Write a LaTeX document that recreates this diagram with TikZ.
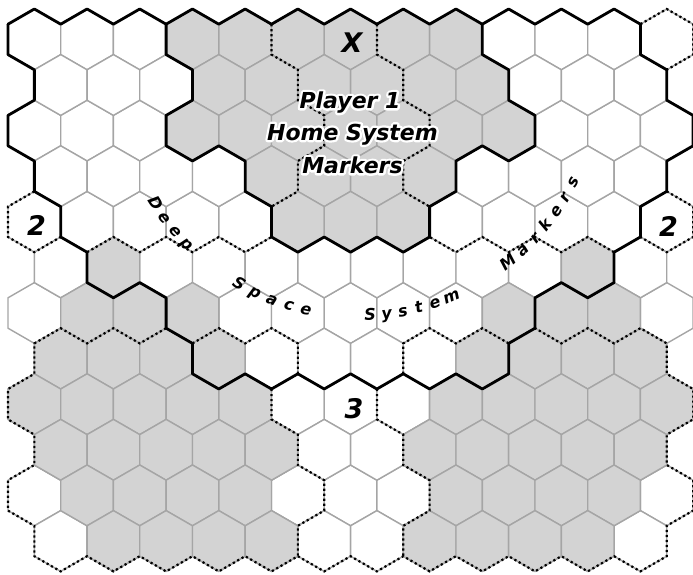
\documentclass[tikz,border=0pt]{standalone}
\usepackage{fontspec}
\setmainfont{DejaVu Sans}
\definecolor{hexgray}{RGB}{211,211,211}
\definecolor{edgegray}{RGB}{165,165,165}
\tikzset{
  cell/.style={fill=white, draw=edgegray, line width=1.4pt, line join=round},
  homecell/.style={fill=hexgray, draw=edgegray, line width=1.4pt, line join=round},
  bound/.style={draw=black, line width=2.8pt, line join=round, line cap=round},
  dotbound/.style={draw=black, line width=2.2pt, dash pattern=on 2.2pt off 2.8pt},
  bigmark/.style={font=\fontsize{27}{27}\selectfont\bfseries\itshape, inner sep=0pt},
  titletext/.style={font=\fontsize{22}{22}\selectfont\bfseries\itshape, inner sep=0pt, anchor=base},
  arcletter/.style={font=\fontsize{16}{16}\selectfont\bfseries\itshape, inner sep=0pt, anchor=base},
}
\newcommand\hexcell[2]{({#1},{#2-2}) -- ({#1+1},{#2-1}) -- ({#1+1},{#2+1}) -- ({#1},{#2+2}) -- ({#1-1},{#2+1}) -- ({#1-1},{#2-1}) -- cycle}
% white outline (stroked glyphs) under the black text
\newcommand\haloed[1]{\rlap{\special{pdf:literal direct 1 Tr 4.6 w 1 j 1 1 1 RG}#1\special{pdf:literal direct 0 Tr 0 0 0 RG}}#1}
\begin{document}
\begin{tikzpicture}[x=1pt,y=-1pt]
\path[use as bounding box] (0,0) rectangle (693,575);
\begin{scope}[shift={(8pt,-9pt)}, x=26.35pt, y=-15.2pt]
  % all cells
  \foreach \r in {1,3,5,7,9,11} {
    \pgfmathtruncatemacro\mc{3*\r-1}
    \foreach \k in {1,3,...,25} {\path[cell] \hexcell{\k}{\mc};}
  }
  \foreach \r in {2,4,6,8,10,12} {
    \pgfmathtruncatemacro\mc{3*\r-1}
    \foreach \k in {2,4,...,24} {\path[cell] \hexcell{\k}{\mc};}
  }
  % shaded home cells
  \foreach \k in {7,9,...,17} {\path[homecell] \hexcell{\k}{2};}
  \foreach \k in {8,10,...,18} {\path[homecell] \hexcell{\k}{5};}
  \foreach \k in {7,9,...,19} {\path[homecell] \hexcell{\k}{8};}
  \foreach \k in {10,12,14,16} {\path[homecell] \hexcell{\k}{11};}
  \foreach \k in {11,13,15} {\path[homecell] \hexcell{\k}{14};}
  \foreach \k in {4,22} {\path[homecell] \hexcell{\k}{17};}
  \foreach \k in {3,5,7,19,21,23} {\path[homecell] \hexcell{\k}{20};}
  \foreach \k in {2,4,6,8,18,20,22,24} {\path[homecell] \hexcell{\k}{23};}
  \foreach \k in {1,3,5,7,9,17,19,21,23,25} {\path[homecell] \hexcell{\k}{26};}
  \foreach \k in {2,4,6,8,10,16,18,20,22,24} {\path[homecell] \hexcell{\k}{29};}
  \foreach \k in {3,5,7,9,17,19,21,23} {\path[homecell] \hexcell{\k}{32};}
  \foreach \k in {4,6,8,10,16,18,20,22} {\path[homecell] \hexcell{\k}{35};}
  % solid boundaries
  \draw[bound] (0,1) \foreach \k in {1,...,24} {-- (\k,{1-mod(\k,2)})};
  \draw[bound] (0,1)--(0,3)--(1,4)--(1,6)--(0,7)--(0,9)--(1,10)--(1,12)--(2,13)--(2,15)--(3,16)--(3,18)--(4,19)--(5,18)--(6,19)--(6,21)--(7,22)--(7,24)--(8,25)--(9,24)--(10,25)--(11,24)--(12,25)--(13,24)--(14,25)--(15,24)--(16,25)--(17,24)--(18,25)--(19,24)--(19,22)--(20,21)--(20,19)--(21,18)--(22,19)--(23,18)--(23,16)--(24,15)--(24,13)--(25,12)--(25,10)--(26,9)--(26,7)--(25,6)--(25,4)--(24,3)--(24,1);
  \draw[bound] (6,1)--(6,3)--(7,4)--(7,6)--(6,7)--(6,9)--(7,10)--(8,9)--(9,10)--(9,12)--(10,13)--(10,15)--(11,16)--(12,15)--(13,16)--(14,15)--(15,16)--(16,15)--(16,13)--(17,12)--(17,10)--(18,9)--(19,10)--(20,9)--(20,7)--(19,6)--(19,4)--(18,3)--(18,1);
  % dotted boundaries
  \draw[dotbound] (24,1)--(25,0)--(26,1)--(26,3)--(25,4);
  \draw[dotbound] (10,1)--(10,3)--(11,4)--(11,6)--(12,7)--(12,9)--(11,10)--(11,12)--(10,13);
  \draw[dotbound] (14,1)--(14,3)--(15,4)--(15,6)--(16,7)--(16,9)--(15,10)--(15,12)--(16,13);
  \draw[dotbound] (1,12)--(0,13)--(0,15)--(1,16)--(2,15);
  \draw[dotbound] (3,16)--(4,15)--(5,16)--(6,15)--(7,16)--(8,15)--(9,16)--(10,15);
  \draw[dotbound] (25,12)--(26,13)--(26,15)--(25,16)--(24,15);
  \draw[dotbound] (23,16)--(22,15)--(21,16)--(20,15)--(19,16)--(18,15)--(17,16)--(16,15);
  \draw[dotbound] (6,21)--(5,22)--(4,21)--(3,22)--(2,21)--(1,22)--(1,24)--(0,25)--(0,27)--(1,28)--(1,30)--(0,31)--(0,33)--(1,34)--(1,36)
     \foreach \k in {2,...,25} {-- (\k,{36+1-mod(\k,2)})}
     --(25,34)--(26,33)--(26,31)--(25,30)--(25,28)--(26,27)--(26,25)--(25,24)--(25,22)--(24,21)--(23,22)--(22,21)--(21,22)--(20,21);
  \draw[dotbound] (7,22)--(8,21)--(9,22)--(10,21)--(11,22)--(11,24);
  \draw[dotbound] (10,25)--(10,27)--(11,28)--(11,30)--(12,31)--(12,33)--(11,34)--(11,36);
  \draw[dotbound] (19,22)--(18,21)--(17,22)--(16,21)--(15,22)--(15,24);
  \draw[dotbound] (14,25)--(14,27)--(15,28)--(15,30)--(16,31)--(16,33)--(15,34)--(15,36);
\end{scope}
% hex labels
\node[bigmark] (markX) at (352,42.5) {X};
\node[bigmark] (twoL) at (36.5,225) {2};
\node[bigmark] (twoR) at (668.5,226) {2};
\node[bigmark] (three) at (354,409) {3};
% outlined title
\node[titletext] (titleA) at (350,108.3) {\haloed{Player 1}};
\node[titletext] (titleB) at (352.5,140) {\haloed{Home System}};
\node[titletext] (titleC) at (352.5,173.3) {\haloed{Markers}};
% arc text
\foreach \a/\t [count=\i] in {-148/D,-143.8/e,-139.6/e,-135.4/p,-119.9/S,-115.5/p,-111.1/a,-106.8/c,-102.6/e,-87.2/S,-83.2/y,-79.3/s,-75.4/t,-71.4/e,-67.2/m,-51.3/M,-46.7/a,-42.6/r,-38.6/k,-34.4/e,-30.4/r,-26.4/s}
  \node[arcletter, rotate=\a+90] (arc\i) at ({358.4pt+245pt*cos(\a)}, {-75.8pt+245pt*sin(\a)}) {\t};
\end{tikzpicture}
\end{document}
